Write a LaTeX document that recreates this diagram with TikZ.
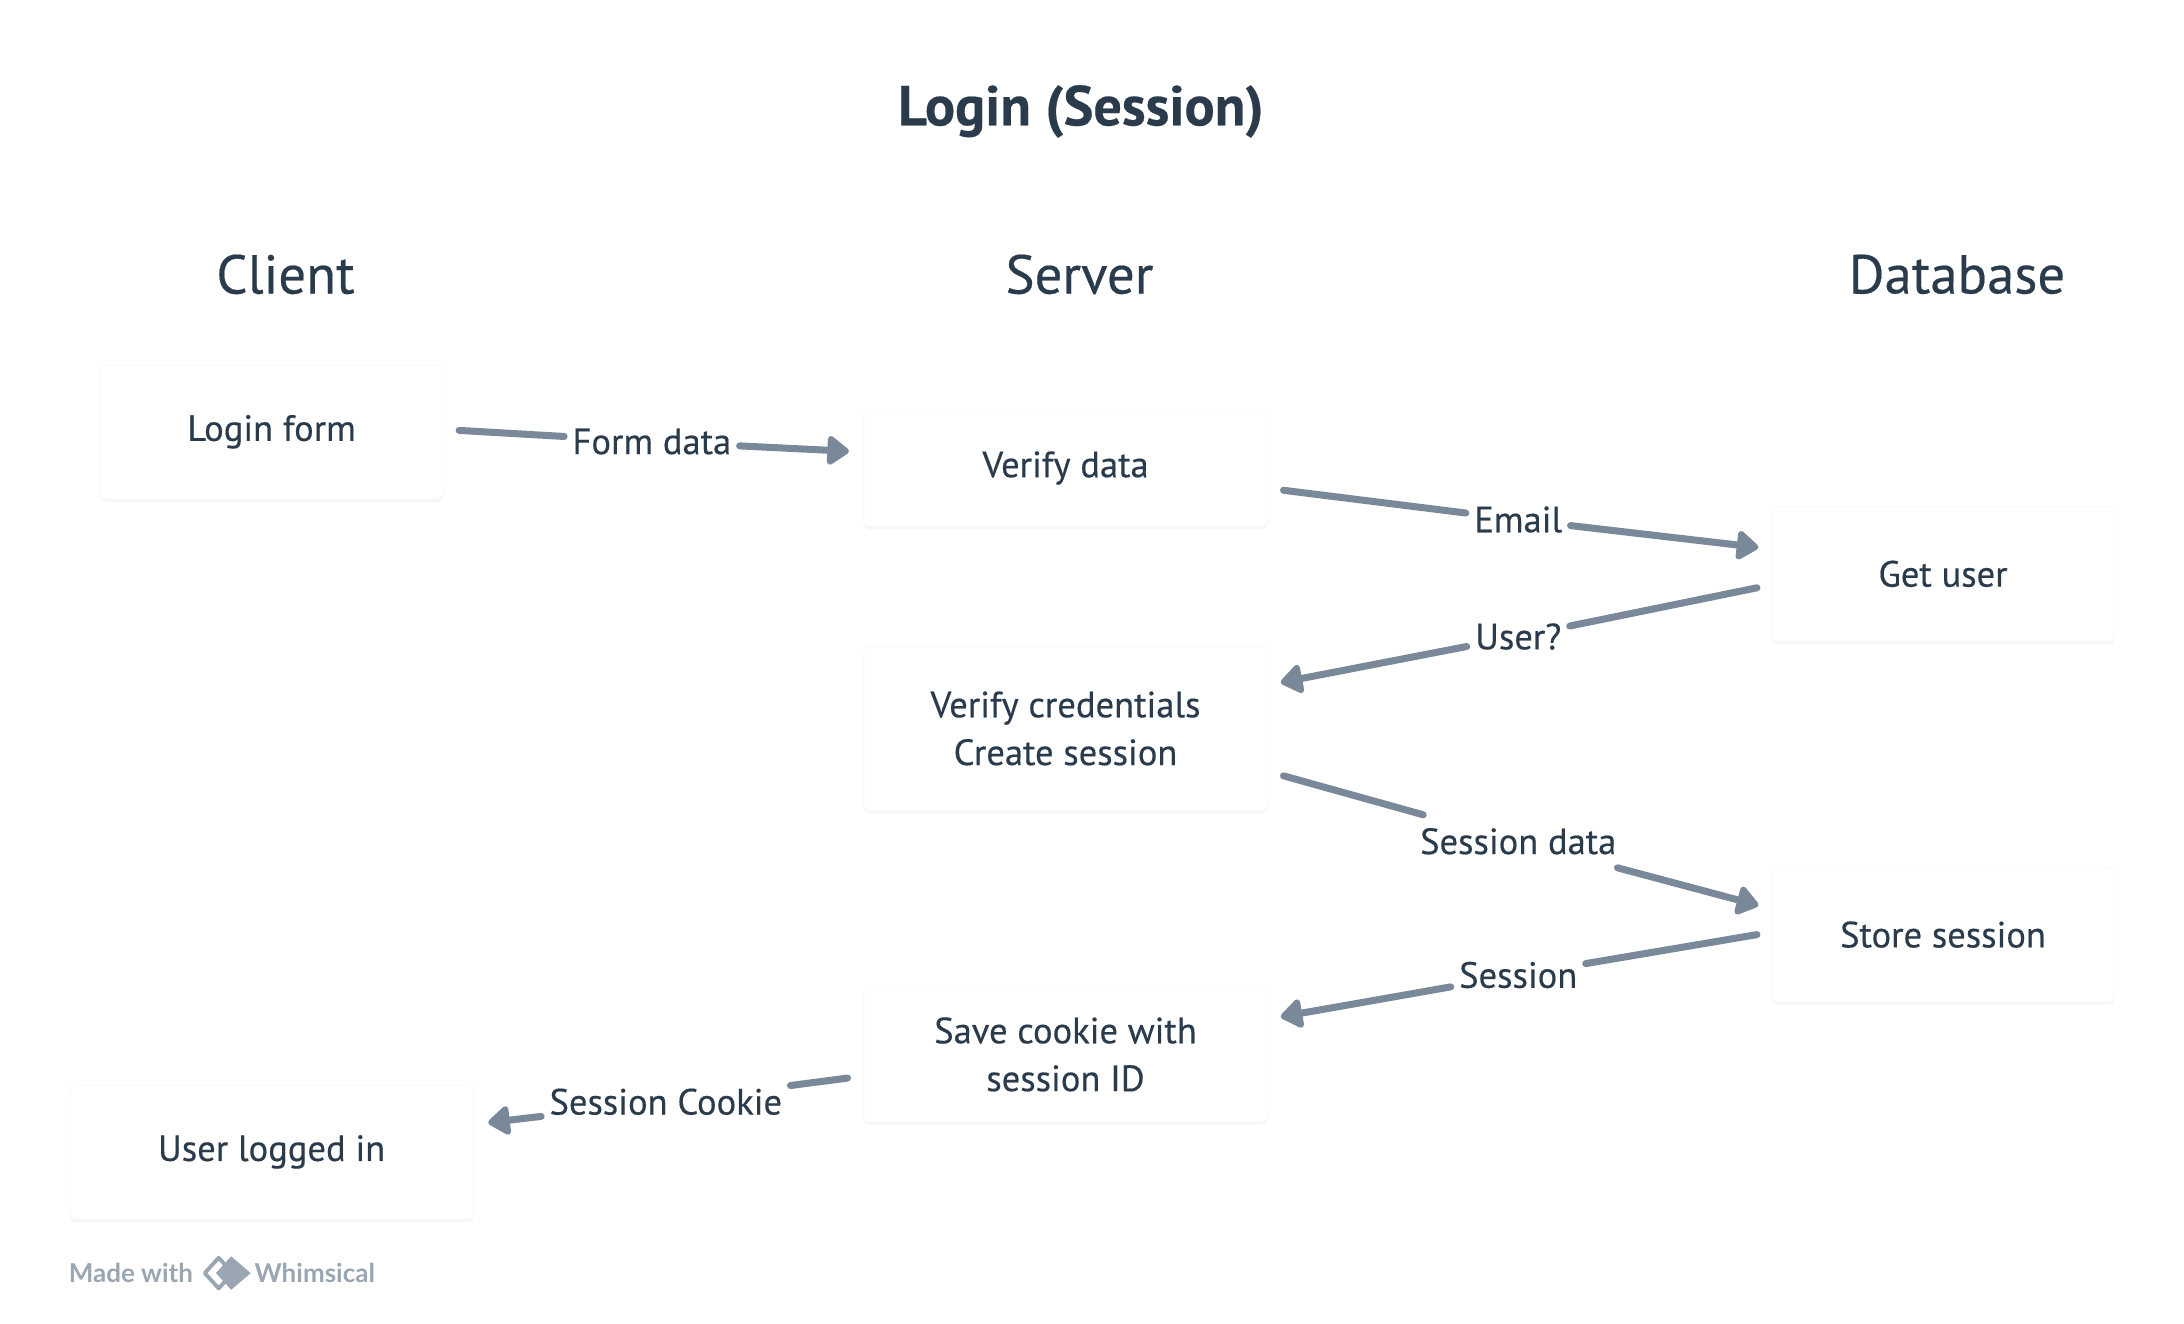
\documentclass[tikz,border=0pt]{standalone}
\usepackage{fontspec}
\setmainfont[RawFeature={embolden=0.35}]{PT Sans}
\newfontfamily\markfont{Lato}
\usetikzlibrary{arrows.meta,shadows}
\definecolor{inkcol}{HTML}{2A3B4C}
\definecolor{linkcol}{HTML}{7A8999}
\definecolor{markcol}{HTML}{9AA6B2}
\tikzset{
  cardbox/.style={fill=white,draw=black!1.5,rounded corners=1.5pt,text=inkcol,font=\fontsize{10.4}{13.6}\selectfont,align=center,minimum width=3.43cm,minimum height=1.34cm,inner sep=0pt,drop shadow={shadow xshift=0pt,shadow yshift=-1pt,fill=black!3,opacity=1}},
  widebox/.style={cardbox,minimum width=4.04cm},
  headtext/.style={text=inkcol,font=\fontsize{15.6}{18}\selectfont,inner sep=0pt},
  linktext/.style={text=inkcol,font=\fontsize{10.4}{13}\selectfont,inner xsep=2.4pt,inner ysep=0pt,minimum height=0.53cm,outer sep=0pt},
  link/.style={draw=linkcol,line width=2pt},
  marktext/.style={text=markcol,font=\markfont\bfseries\fontsize{7.4}{9}\selectfont,inner sep=0pt}
}
\begin{document}
\begin{tikzpicture}[line cap=round,line join=round,>={Triangle[length=6.8pt,width=9.4pt,round]},x=0.013929cm,y=-0.013929cm]
\useasboundingbox (0,0) rectangle (1568,950.55);

\node[headtext,font=\bfseries\fontsize{16}{18}\selectfont] (title) at (776,80) {Login (Session)};
\node[headtext] (client) at (205,197) {Client};
\node[headtext] (server) at (775,197) {Server};
\node[headtext] (database) at (1405,197) {Database};

\node[cardbox] (loginform) at (195,310) {Login form};
\node[widebox,minimum height=1.16cm] (verifydata) at (765,336) {Verify data};
\node[widebox,minimum height=1.64cm] (credentials) at (765,523) {Verify credentials\\Create session};
\node[widebox] (savecookie) at (765,757) {Save cookie with\\session ID};
\node[widebox] (loggedin) at (195,827) {User logged in};
\node[cardbox] (getuser) at (1395,412) {Get user};
\node[cardbox] (storesession) at (1395,671) {Store session};

\node[linktext] (formdata) at (468,317) {Form data};
\node[linktext] (email) at (1090,373) {Email};
\node[linktext] (userq) at (1090,457) {User?};
\node[linktext] (sessiondata) at (1090,604) {Session data};
\node[linktext] (sessionlabel) at (1090,700) {Session};
\node[linktext] (sessioncookie) at (478,791) {Session Cookie};

\draw[link] ([shift={(11,-1)}]loginform.east) -- (formdata);
\draw[link,->] (formdata) -- ([shift={(-10,-12)}]verifydata.west);
\draw[link] ([shift={(11,16)}]verifydata.east) -- (email);
\draw[link,->] (email) -- ([shift={(-9,-19)}]getuser.west);
\draw[link] ([shift={(-10,10)}]getuser.west) -- (userq);
\draw[link,->] (userq) -- ([shift={(9,-33)}]credentials.east);
\draw[link] ([shift={(11,34)}]credentials.east) -- (sessiondata);
\draw[link,->] (sessiondata) -- ([shift={(-9,-21)}]storesession.west);
\draw[link] ([shift={(-10,0)}]storesession.west) -- (sessionlabel);
\draw[link,->] (sessionlabel) -- ([shift={(9,-27)}]savecookie.east);
\draw[link] ([shift={(-11,17)}]savecookie.west) -- (sessioncookie);
\draw[link,->] (sessioncookie) -- ([shift={(10,-21)}]loggedin.east);

\node[marktext] (madewith) at (94,914) {Made with};
\draw[markcol,line width=1.1pt] (157,903) -- (147,914) -- (157,925) -- (167,914) -- cycle;
\fill[markcol] (166,902) -- (180,914) -- (166,926) -- (155,914) -- cycle;
\node[marktext] (whimsical) at (226,914) {Whimsical};
\end{tikzpicture}
\end{document}
